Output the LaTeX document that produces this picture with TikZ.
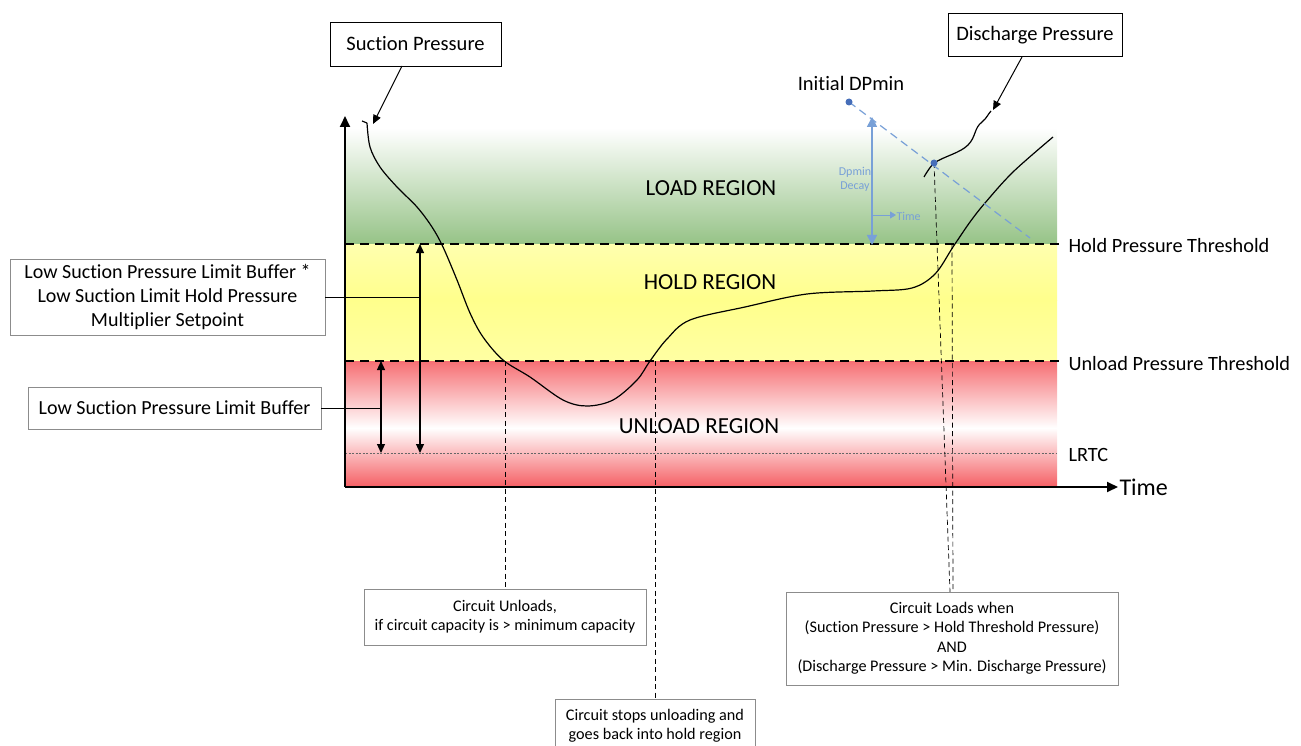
\documentclass[tikz,border=0pt]{standalone}
\usepackage{fontspec}
\setmainfont{Carlito}[Ligatures=NoCommon]
\usetikzlibrary{arrows.meta}
\definecolor{gr}{RGB}{150,195,135}
\definecolor{yl}{RGB}{255,255,140}
\definecolor{rd}{RGB}{245,95,100}
\definecolor{bl}{RGB}{120,160,215}
\definecolor{bld}{RGB}{70,110,185}
\tikzset{
  fs/.style args={#1/#2}{font=\fontsize{#1}{#2}\selectfont},
  bbox/.style={draw=black, thick, fill=white, align=center, inner sep=0pt},
  gbox/.style={draw=black!45, fill=white, align=center, inner sep=0pt},
  thr/.style={dash pattern=on 9pt off 6pt, line width=1.3pt},
  sdash/.style={dash pattern=on 5pt off 3.5pt, line width=0.7pt},
  curve/.style={line width=1.2pt},
  tip/.style={-{Triangle[length=9pt,width=8pt]}},
  dtip/.style={{Triangle[length=9pt,width=8pt]}-{Triangle[length=9pt,width=8pt]}, line width=1.2pt},
}
\begin{document}
\begin{tikzpicture}[x=1pt,y=-1pt]
\useasboundingbox (0,0) rectangle (1301,746);
% regions
\shade[top color=white, bottom color=gr] (346,128) rectangle (1057,244);
\shade[top color=yl!70, bottom color=yl] (346,244) rectangle (1057,300);
\shade[top color=yl, bottom color=yl!80] (346,300) rectangle (1057,361);
\shade[top color=rd!90, bottom color=white] (346,361) rectangle (1057,428);
\shade[top color=white, bottom color=rd] (346,428) rectangle (1057,487);
% region labels
\node[fs=23/27] (load) at (711,188) {LOAD REGION};
\node[fs=23/27] (hold) at (710,282) {HOLD REGION};
\node[fs=23/27] (unload) at (699,426) {UNLOAD REGION};
% thresholds
\coordinate (hL) at (345,244); \coordinate (hR) at (1060,244);
\coordinate (uL) at (345,361); \coordinate (uR) at (1060,361);
\coordinate (lL) at (345,453); \coordinate (lR) at (1057,453);
\draw[thr] (hL) -- (hR);
\draw[thr] (uL) -- (uR);
\draw[black!60, dash pattern=on 2pt off 1.5pt, line width=0.4pt] (lL) -- (lR);
\node[fs=20.3/24, anchor=west] (hpt) at (1065,246) {Hold Pressure Threshold};
\node[fs=20.3/24, anchor=west] (upt) at (1065,364) {Unload Pressure Threshold};
\node[fs=20.3/24, anchor=west] (lrtc) at (1065,455) {LRTC};
% axes
\coordinate (O) at (345,487);
\coordinate (Ytop) at (345,116);
\coordinate (Xend) at (1118,487);
\draw[line width=1.8pt, -{Triangle[length=11pt,width=10pt]}] (O) -- (Ytop);
\draw[line width=1.8pt, -{Triangle[length=11pt,width=10pt]}] (O) -- (Xend);
\node[fs=24/28, anchor=west] (time) at (1116,487) {Time};
% vertical dashed guide lines
\coordinate (a1) at (505,361); \coordinate (b1) at (655,361);
\coordinate (dp) at (934,163); \coordinate (c2) at (952,244);
% suction curve
\draw[curve] (362,121) -- (367,123);
\draw[curve] plot[smooth, tension=0.55] coordinates {(367,123) (370,147) (380,167) (397,187) (417,207) (432,227) (443,247) (457,280) (470,313) (483,337) (503,360) (530,377) (563,400) (587,406) (613,400) (637,380) (650,361) (667,339) (690,320) (745,307) (807,294) (873,291) (912,288) (935,274) (953,247) (970,222) (985,203) (1013,172) (1053,137)};
% discharge curve
\draw[curve] (924,177) .. controls (928,170) and (931,166) .. (934,163)
  .. controls (945,156) and (960,153) .. (968,145)
  .. controls (976,137) and (974,128) .. (982,122)
  .. controls (987,118) and (988,114) .. (991,111);
% dashed verticals
\draw[sdash] (a1) -- (505,589);
\draw[sdash] (b1) -- (655,699);
\draw[sdash] (dp) -- (950,592);
\draw[sdash] (c2) -- (953,592);
% DPmin
\coordinate (dp0) at (849,102);
\coordinate (dpe) at (1030,238);
\draw[bl, dash pattern=on 8pt off 5pt, line width=1.2pt] (dp0) -- (dpe);
\fill[bld] (dp0) circle (3.5pt);
\fill[bld] (dp) circle (3.5pt);
\node[fs=20.5/24] (idp) at (851,83) {Initial DPmin};
\draw[bl, line width=1.6pt, {Triangle[length=10pt,width=10pt]}-{Triangle[length=10pt,width=10pt]}] (872,117) -- (872,245);
\node[fs=12/14, text=bl, align=center] (dec) at (855,179) {Dpmin\\Decay};
\draw[bl, line width=0.8pt, -{Triangle[length=6pt,width=7pt]}] (872,215) -- (896,215);
\node[fs=12/14, text=bl, anchor=west] (tm) at (893,216) {Time};
% top boxes
\node[bbox, fs=20.5/24, minimum width=171pt, minimum height=44pt] (sp) at (415.5,44) {Suction Pressure};
\node[bbox, fs=20.5/24, minimum width=174pt, minimum height=43pt] (dpbox) at (1035,35) {Discharge Pressure};
\coordinate (spt) at (373,124);
\coordinate (dpt) at (993,110);
\draw[line width=1pt, tip] (402,66) -- (spt);
\draw[line width=1pt, tip] (1022,57) -- (dpt);
% left boxes
\node[gbox, fs=20/24, minimum width=315pt, minimum height=76pt] (lb1) at (167.5,297) {Low Suction Pressure Limit Buffer *\\Low Suction Limit Hold Pressure\\Multiplier Setpoint};
\node[gbox, fs=20/24, minimum width=293pt, minimum height=42pt] (lb2) at (174.5,408) {Low Suction Pressure Limit Buffer};
\draw[dtip] (420,244) -- (420,453);
\draw[dtip] (381,361) -- (381,453);
\draw[line width=1pt] (lb1.east) -- (420,297);
\draw[line width=1pt] (lb2.east) -- (381,408);
% bottom boxes
\node[gbox, fs=16.2/19, minimum width=282pt, minimum height=56pt] (ba) at (505,617) {Circuit Unloads,\\if circuit capacity is > minimum capacity};
\node[gbox, fs=16.2/19, minimum width=200pt, minimum height=50pt, anchor=north] (bb) at (655,699) {\rule{0pt}{14pt}Circuit stops unloading and\\goes back into hold region};
\node[gbox, fs=16.2/19.5, minimum width=332pt, minimum height=93pt] (bc) at (952,638.5) {Circuit Loads when\\(Suction Pressure > Hold Threshold Pressure)\\AND\\(Discharge Pressure > Min. Discharge Pressure)};
\end{tikzpicture}
\end{document}
